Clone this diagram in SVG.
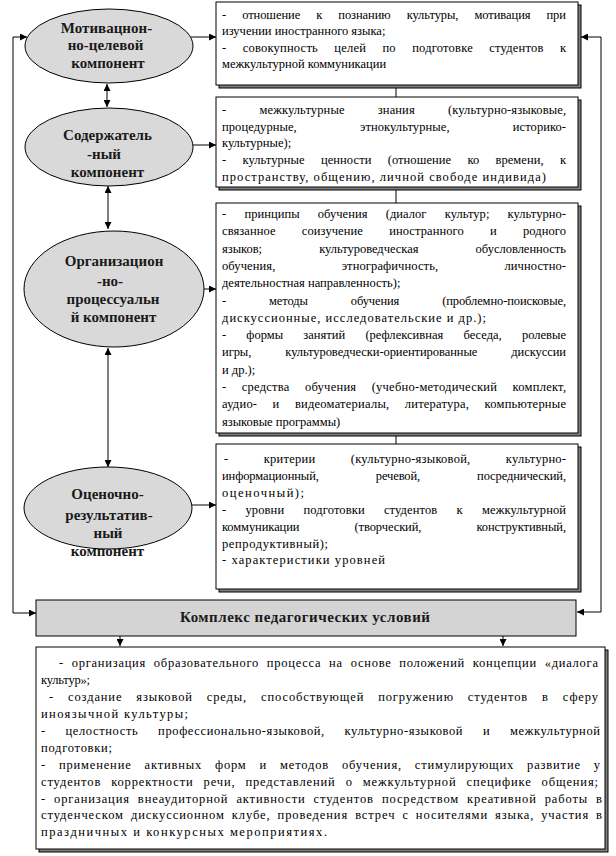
<svg xmlns="http://www.w3.org/2000/svg" width="616" height="856" viewBox="0 0 616 856">
<style>
.ell{fill:#d9d9d9;stroke:#000;stroke-width:1}
.box{fill:#fff;stroke:#000;stroke-width:1}
.sh{fill:#808080;stroke:#000;stroke-width:1}
.cx{fill:#d4d4d4;stroke:#000;stroke-width:1}
.et{font-family:'Liberation Serif','Times New Roman',serif;font-weight:bold;font-size:15px;fill:#1a1a1a;text-anchor:middle}
.bt{font-family:'Liberation Serif','Times New Roman',serif;font-size:12.5px;fill:#000}
.ln{fill:none;stroke:#000;stroke-width:1}
</style>
<defs>
<marker id="ah" markerUnits="userSpaceOnUse" markerWidth="8" markerHeight="7" refX="7" refY="3.5" orient="auto-start-reverse">
<path d="M0,0 L7,3.5 L0,7 z" fill="#000"/>
</marker>
</defs>
<rect x="0" y="0" width="616" height="856" fill="#fff"/>

<g id="connectors">
<path class="ln" d="M27,37 L13,37 L13,613 L36,613" marker-start="url(#ah)" marker-end="url(#ah)"/>
<path class="ln" d="M581,37 L601,37 L601,612 L577,612" marker-start="url(#ah)" marker-end="url(#ah)"/>
<line class="ln" x1="191" y1="37" x2="216" y2="37" marker-end="url(#ah)"/>
<line class="ln" x1="193" y1="145" x2="216" y2="145" marker-end="url(#ah)"/>
<line class="ln" x1="204" y1="289" x2="216" y2="289" marker-end="url(#ah)"/>
<line class="ln" x1="192" y1="505" x2="216" y2="505" marker-end="url(#ah)"/>
<line class="ln" x1="107" y1="84" x2="107" y2="107" marker-start="url(#ah)" marker-end="url(#ah)"/>
<line class="ln" x1="108" y1="186" x2="108" y2="229" marker-start="url(#ah)" marker-end="url(#ah)"/>
<line class="ln" x1="108" y1="348" x2="108" y2="467" marker-start="url(#ah)" marker-end="url(#ah)"/>
<line class="ln" x1="396" y1="85" x2="396" y2="97"/>
<line class="ln" x1="396" y1="187" x2="396" y2="203"/>
<line class="ln" x1="396" y1="433" x2="396" y2="444"/>
<line class="ln" x1="120" y1="636" x2="120" y2="646" marker-end="url(#ah)"/>
<line class="ln" x1="503" y1="636" x2="503" y2="646" marker-end="url(#ah)"/>
</g>

<g id="e1">
<ellipse class="ell" cx="109" cy="46" rx="84" ry="37"/>
<text class="et" x="106.5" y="33">Мотивацнон-</text>
<text class="et" x="105.5" y="50">но-целевой</text>
<text class="et" x="108" y="68">компонент</text>
</g>
<g id="e2">
<ellipse class="ell" cx="109" cy="147" rx="84" ry="39"/>
<text class="et" x="107.5" y="140">Содержатель</text>
<text class="et" x="104" y="159">-ный</text>
<text class="et" x="107.5" y="177">компонент</text>
</g>
<g id="e3">
<ellipse class="ell" cx="114" cy="289" rx="90" ry="58"/>
<text class="et" x="114" y="266">Организацион</text>
<text class="et" x="110" y="286">-но-</text>
<text class="et" x="113" y="304">процессуальн</text>
<text class="et" x="113.5" y="322">й компонент</text>
</g>
<g id="e4">
<ellipse class="ell" cx="108" cy="508" rx="84" ry="41"/>
<text class="et" x="107.5" y="499">Оценочно-</text>
<text class="et" x="109" y="520">результатив-</text>
<text class="et" x="108" y="538">ный</text>
<text class="et" x="107.5" y="556">компонент</text>
</g>

<g id="b1">
<rect class="sh" x="219" y="5" width="362" height="83"/>
<rect class="box" x="216" y="2" width="362" height="83"/>
<text class="bt" x="222" y="19" word-spacing="13" textLength="344" lengthAdjust="spacing">- отношение к познанию культуры, мотивация при</text>
<text class="bt" x="222" y="35">изучении иностранного языка;</text>
<text class="bt" x="222" y="52" word-spacing="13" textLength="344" lengthAdjust="spacing">- совокупность целей по подготовке студентов к</text>
<text class="bt" x="222" y="68">межкультурной коммуникации</text>
</g>
<g id="b2">
<rect class="sh" x="219" y="100" width="362" height="90"/>
<rect class="box" x="216" y="97" width="362" height="90"/>
<text class="bt" x="222" y="114" word-spacing="30" textLength="344" lengthAdjust="spacing">- межкультурные знания (культурно-языковые,</text>
<text class="bt" x="222" y="131" word-spacing="60" textLength="344" lengthAdjust="spacing">процедурные, этнокультурные, историко-</text>
<text class="bt" x="222" y="147">культурные);</text>
<text class="bt" x="222" y="164" word-spacing="13" textLength="344" lengthAdjust="spacing">- культурные ценности (отношение ко времени, к</text>
<text class="bt" x="222" y="181" textLength="324" lengthAdjust="spacing">пространству, общению, личной свободе индивида)</text>
</g>
<g id="b3">
<rect class="sh" x="219" y="206" width="362" height="230"/>
<rect class="box" x="216" y="203" width="362" height="230"/>
<text class="bt" x="222" y="218" word-spacing="15" textLength="344" lengthAdjust="spacing">- принципы обучения (диалог культур; культурно-</text>
<text class="bt" x="222" y="235.3" word-spacing="23" textLength="344" lengthAdjust="spacing">связанное соизучение иностранного и родного</text>
<text class="bt" x="222" y="252.6" word-spacing="54" textLength="344" lengthAdjust="spacing">языков; культуроведческая обусловленность</text>
<text class="bt" x="222" y="269.9" word-spacing="63" textLength="344" lengthAdjust="spacing">обучения, этнографичность, личностно-</text>
<text class="bt" x="222" y="287.2">деятельностная направленность);</text>
<text class="bt" x="222" y="304.5" word-spacing="40" textLength="344" lengthAdjust="spacing">- методы обучения (проблемно-поисковые,</text>
<text class="bt" x="222" y="321.8" textLength="264" lengthAdjust="spacing">дискуссионные, исследовательские и др.);</text>
<text class="bt" x="222" y="339.1" word-spacing="17" textLength="344" lengthAdjust="spacing">- формы занятий (рефлексивная беседа, ролевые</text>
<text class="bt" x="222" y="356.4" word-spacing="31" textLength="344" lengthAdjust="spacing">игры, культуроведчески-ориентированные дискуссии</text>
<text class="bt" x="222" y="373.7">и др.);</text>
<text class="bt" x="222" y="391" word-spacing="12" textLength="344" lengthAdjust="spacing">- средства обучения (учебно-методический комплект,</text>
<text class="bt" x="222" y="408.3" word-spacing="12" textLength="344" lengthAdjust="spacing">аудио- и видеоматериалы, литература, компьютерные</text>
<text class="bt" x="222" y="425.6">языковые программы)</text>
</g>
<g id="b4">
<rect class="sh" x="219" y="447" width="362" height="145"/>
<rect class="box" x="216" y="444" width="362" height="145"/>
<text class="bt" x="224" y="463" word-spacing="32" textLength="342" lengthAdjust="spacing">- критерии (культурно-языковой, культурно-</text>
<text class="bt" x="222" y="480" word-spacing="54" textLength="344" lengthAdjust="spacing">информационный, речевой, посреднический,</text>
<text class="bt" x="222" y="497" textLength="82" lengthAdjust="spacing">оценочный);</text>
<text class="bt" x="222" y="514" word-spacing="16" textLength="344" lengthAdjust="spacing">- уровни подготовки студентов к межкультурной</text>
<text class="bt" x="222" y="531" word-spacing="52" textLength="344" lengthAdjust="spacing">коммуникации (творческий, конструктивный,</text>
<text class="bt" x="222" y="548" textLength="106" lengthAdjust="spacing">репродуктивный);</text>
<text class="bt" x="222" y="564" textLength="163" lengthAdjust="spacing">- характеристики уровней</text>
</g>

<g id="complex">
<rect class="cx" x="36" y="600" width="540" height="36"/>
<text class="et" x="305" y="622" textLength="250" lengthAdjust="spacing">Комплекс педагогических условий</text>
</g>

<g id="b5">
<rect class="sh" x="39" y="650" width="569" height="202"/>
<rect class="box" x="36" y="647" width="569" height="202"/>
<text class="bt" x="59" y="667" word-spacing="4" textLength="539" lengthAdjust="spacing">- организация образовательного процесса на основе положений концепции «диалога</text>
<text class="bt" x="41" y="684" textLength="49" lengthAdjust="spacing">культур»;</text>
<text class="bt" x="49" y="701" word-spacing="10" textLength="549" lengthAdjust="spacing">- создание языковой среды, способствующей погружению студентов в сферу</text>
<text class="bt" x="41" y="718" textLength="147" lengthAdjust="spacing">иноязычной культуры;</text>
<text class="bt" x="41" y="735" word-spacing="16" textLength="559" lengthAdjust="spacing">- целостность профессионально-языковой, культурно-языковой и межкультурной</text>
<text class="bt" x="41" y="752" textLength="71" lengthAdjust="spacing">подготовки;</text>
<text class="bt" x="41" y="769" word-spacing="9" textLength="559" lengthAdjust="spacing">- применение активных форм и методов обучения, стимулирующих развитие у</text>
<text class="bt" x="41" y="786" word-spacing="6" textLength="557" lengthAdjust="spacing">студентов корректности речи, представлений о межкультурной специфике общения;</text>
<text class="bt" x="41" y="803" word-spacing="4" textLength="561" lengthAdjust="spacing">- организация внеаудиторной активности студентов посредством креативной работы в</text>
<text class="bt" x="41" y="819" word-spacing="3" textLength="561" lengthAdjust="spacing">студенческом дискуссионном клубе, проведения встреч с носителями языка, участия в</text>
<text class="bt" x="41" y="836" textLength="286" lengthAdjust="spacing">праздничных и конкурсных мероприятиях.</text>
</g>
</svg>
